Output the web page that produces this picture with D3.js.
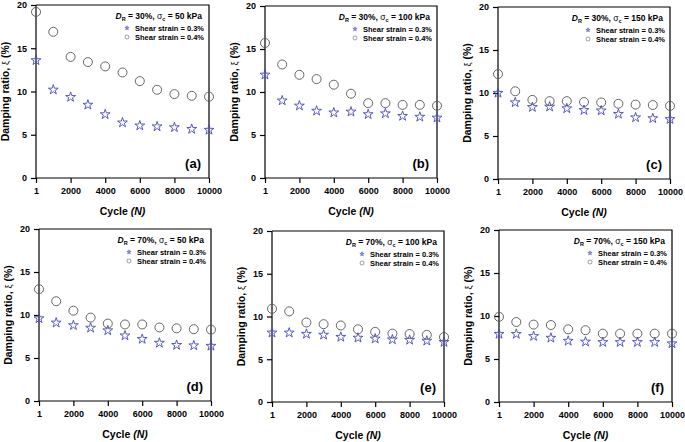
<!DOCTYPE html>
<html><head><meta charset="utf-8">
<script src="https://cdn.jsdelivr.net/npm/d3@7"></script>
<style>body{margin:0;background:#fff}svg{display:block}text{font-family:"Liberation Sans",Arial,sans-serif}</style>
</head><body>
<svg id="c" width="685" height="442"></svg>
<script>
const cycles = [1, 1000, 2000, 3000, 4000, 5000, 6000, 7000, 8000, 9000, 10000];
const xTicks = [1, 2000, 4000, 6000, 8000, 10000];
const yTicks = [0, 5, 10, 15, 20];
const panelLabels = ["(a)", "(b)", "(c)", "(d)", "(e)", "(f)"];
const densities = ["30%", "30%", "30%", "70%", "70%", "70%"];
const pressures = ["50", "100", "150", "50", "100", "150"];
const legendNames = ["Shear strain = 0.3%", "Shear strain = 0.4%"];

const strain03_a = [13.6, 10.2, 9.35, 8.45, 7.35, 6.4, 6.05, 5.95, 5.85, 5.65, 5.55];
const strain04_a = [19.2, 16.9, 14.0, 13.4, 12.9, 12.2, 11.2, 10.2, 9.7, 9.5, 9.4];
const strain03_b = [12.0, 9.0, 8.4, 7.8, 7.6, 7.7, 7.4, 7.5, 7.2, 7.1, 7.0];
const strain04_b = [15.7, 13.2, 12.0, 11.5, 10.85, 9.8, 8.7, 8.7, 8.5, 8.5, 8.4];
const strain03_c = [10.0, 8.9, 8.35, 8.4, 8.2, 8.0, 7.95, 7.55, 7.15, 7.05, 6.95];
const strain04_c = [12.2, 10.2, 9.2, 9.05, 9.05, 8.95, 8.9, 8.75, 8.65, 8.6, 8.5];
const strain03_d = [9.6, 9.1, 8.8, 8.5, 8.2, 7.6, 7.2, 6.75, 6.5, 6.45, 6.4];
const strain04_d = [13.0, 11.6, 10.5, 9.7, 9.0, 8.9, 8.9, 8.55, 8.45, 8.35, 8.3];
const strain03_e = [8.1, 8.1, 7.95, 7.85, 7.6, 7.5, 7.4, 7.3, 7.25, 7.15, 7.0];
const strain04_e = [10.9, 10.6, 9.3, 9.1, 8.95, 8.5, 8.2, 8.0, 7.95, 7.85, 7.6];
const strain03_f = [7.9, 7.9, 7.65, 7.45, 7.1, 7.0, 6.95, 6.95, 6.95, 6.95, 6.8];
const strain04_f = [9.9, 9.3, 9.0, 8.95, 8.45, 8.35, 7.95, 7.95, 7.95, 7.95, 7.95];

const s03 = [strain03_a, strain03_b, strain03_c, strain03_d, strain03_e, strain03_f];
const s04 = [strain04_a, strain04_b, strain04_c, strain04_d, strain04_e, strain04_f];

// layout boxes (left, right, top, bottom)
const boxes = [
  [36, 209, 5, 178], [265, 437, 6, 178], [498, 670, 7, 179],
  [39, 211, 229, 401], [272, 444, 231, 402], [499, 672, 230, 402]
];

const svg = d3.select("#c");
const starColor = "#4848c4";
const circColor = "#555";
const star = d3.symbol().type(d3.symbolStar).size(30);
const starSmall = d3.symbol().type(d3.symbolStar).size(6);

boxes.forEach((b, i) => {
  const [L, R, T, B] = b;
  const x = d3.scaleLinear().domain([0, 10000]).range([L, R]);
  const y = d3.scaleLinear().domain([0, 20]).range([B, T]);
  const g = svg.append("g");

  g.append("path").attr("d", `M${L},${T}H${R}V${B}`).attr("fill", "none").attr("stroke", "#000").attr("stroke-width", 1.2);

  const xa = g.append("g").attr("transform", `translate(0,${B})`)
    .call(d3.axisBottom(x).tickValues(xTicks).tickSize(5).tickPadding(5).tickFormat(d3.format("d")));
  const ya = g.append("g").attr("transform", `translate(${L},0)`)
    .call(d3.axisLeft(y).tickValues(yTicks).tickSize(5).tickPadding(4));
  [xa, ya].forEach(a => {
    a.select(".domain").attr("stroke-width", 1.2);
    a.selectAll(".tick line").attr("stroke-width", 1.2);
    a.selectAll("text").attr("font-size", 9).attr("font-weight", "bold").attr("fill", "#000");
  });
  xa.select(".domain").attr("d", `M${L},0H${R}`);
  ya.select(".domain").attr("d", `M0,${B}V${T}`);

  const xt = g.append("text").attr("x", (L + R) / 2).attr("y", B + 37).attr("text-anchor", "middle")
    .attr("font-size", 10.5).attr("font-weight", "bold");
  xt.append("tspan").text("Cycle ");
  xt.append("tspan").attr("font-style", "italic").text("(N)");

  const yt = g.append("text").attr("transform", `translate(${L - 27},${(T + B) / 2}) rotate(-90)`)
    .attr("text-anchor", "middle").attr("font-size", 10.5).attr("font-weight", "bold");
  yt.append("tspan").text("Damping ratio, ");
  yt.append("tspan").attr("font-weight", "normal").attr("font-size", 9).text("ξ");
  yt.append("tspan").text(" (%)");

  g.append("text").attr("x", R - 8).attr("y", B - 10).attr("text-anchor", "end")
    .attr("font-size", 13).attr("font-weight", "bold").text(panelLabels[i]);

  const lt = g.append("text").attr("x", R - 7).attr("y", T + 14).attr("text-anchor", "end")
    .attr("font-size", 8.5).attr("font-weight", "bold");
  lt.append("tspan").attr("font-style", "italic").text("D");
  lt.append("tspan").attr("font-size", 5.5).attr("dy", 2).text("R");
  lt.append("tspan").attr("dy", -2).text(" = " + densities[i] + ", ");
  lt.append("tspan").attr("font-weight", "normal").text("σ");
  lt.append("tspan").attr("font-size", 5.5).attr("dy", 2).text("c");
  lt.append("tspan").attr("dy", -2).text(" = " + pressures[i] + " kPa");

  legendNames.forEach((nm, k) => {
    const ly = T + 23 + k * 9;
    if (k === 0) {
      g.append("path").attr("d", starSmall).attr("transform", `translate(${R - 82},${ly})`)
        .attr("fill", "#9c9ce0").attr("stroke", starColor).attr("stroke-width", 0.5);
    } else {
      g.append("circle").attr("cx", R - 82).attr("cy", ly).attr("r", 2)
        .attr("fill", "none").attr("stroke", "#777").attr("stroke-width", 0.7);
    }
    g.append("text").attr("x", R - 74).attr("y", ly + 3).attr("font-size", 7.5).attr("font-weight", "bold")
      .text(nm);
  });

  g.selectAll("circle.d").data(cycles).enter().append("circle").attr("class", "d")
    .attr("cx", d => x(d)).attr("cy", (d, j) => y(s04[i][j])).attr("r", 4.5)
    .attr("fill", "none").attr("stroke", circColor).attr("stroke-width", 0.9);
  g.selectAll("path.s").data(cycles).enter().append("path").attr("class", "s")
    .attr("d", star).attr("transform", (d, j) => `translate(${x(d)},${y(s03[i][j])})`)
    .attr("fill", "none").attr("stroke", starColor).attr("stroke-width", 0.9);
});
</script>
</body></html>
